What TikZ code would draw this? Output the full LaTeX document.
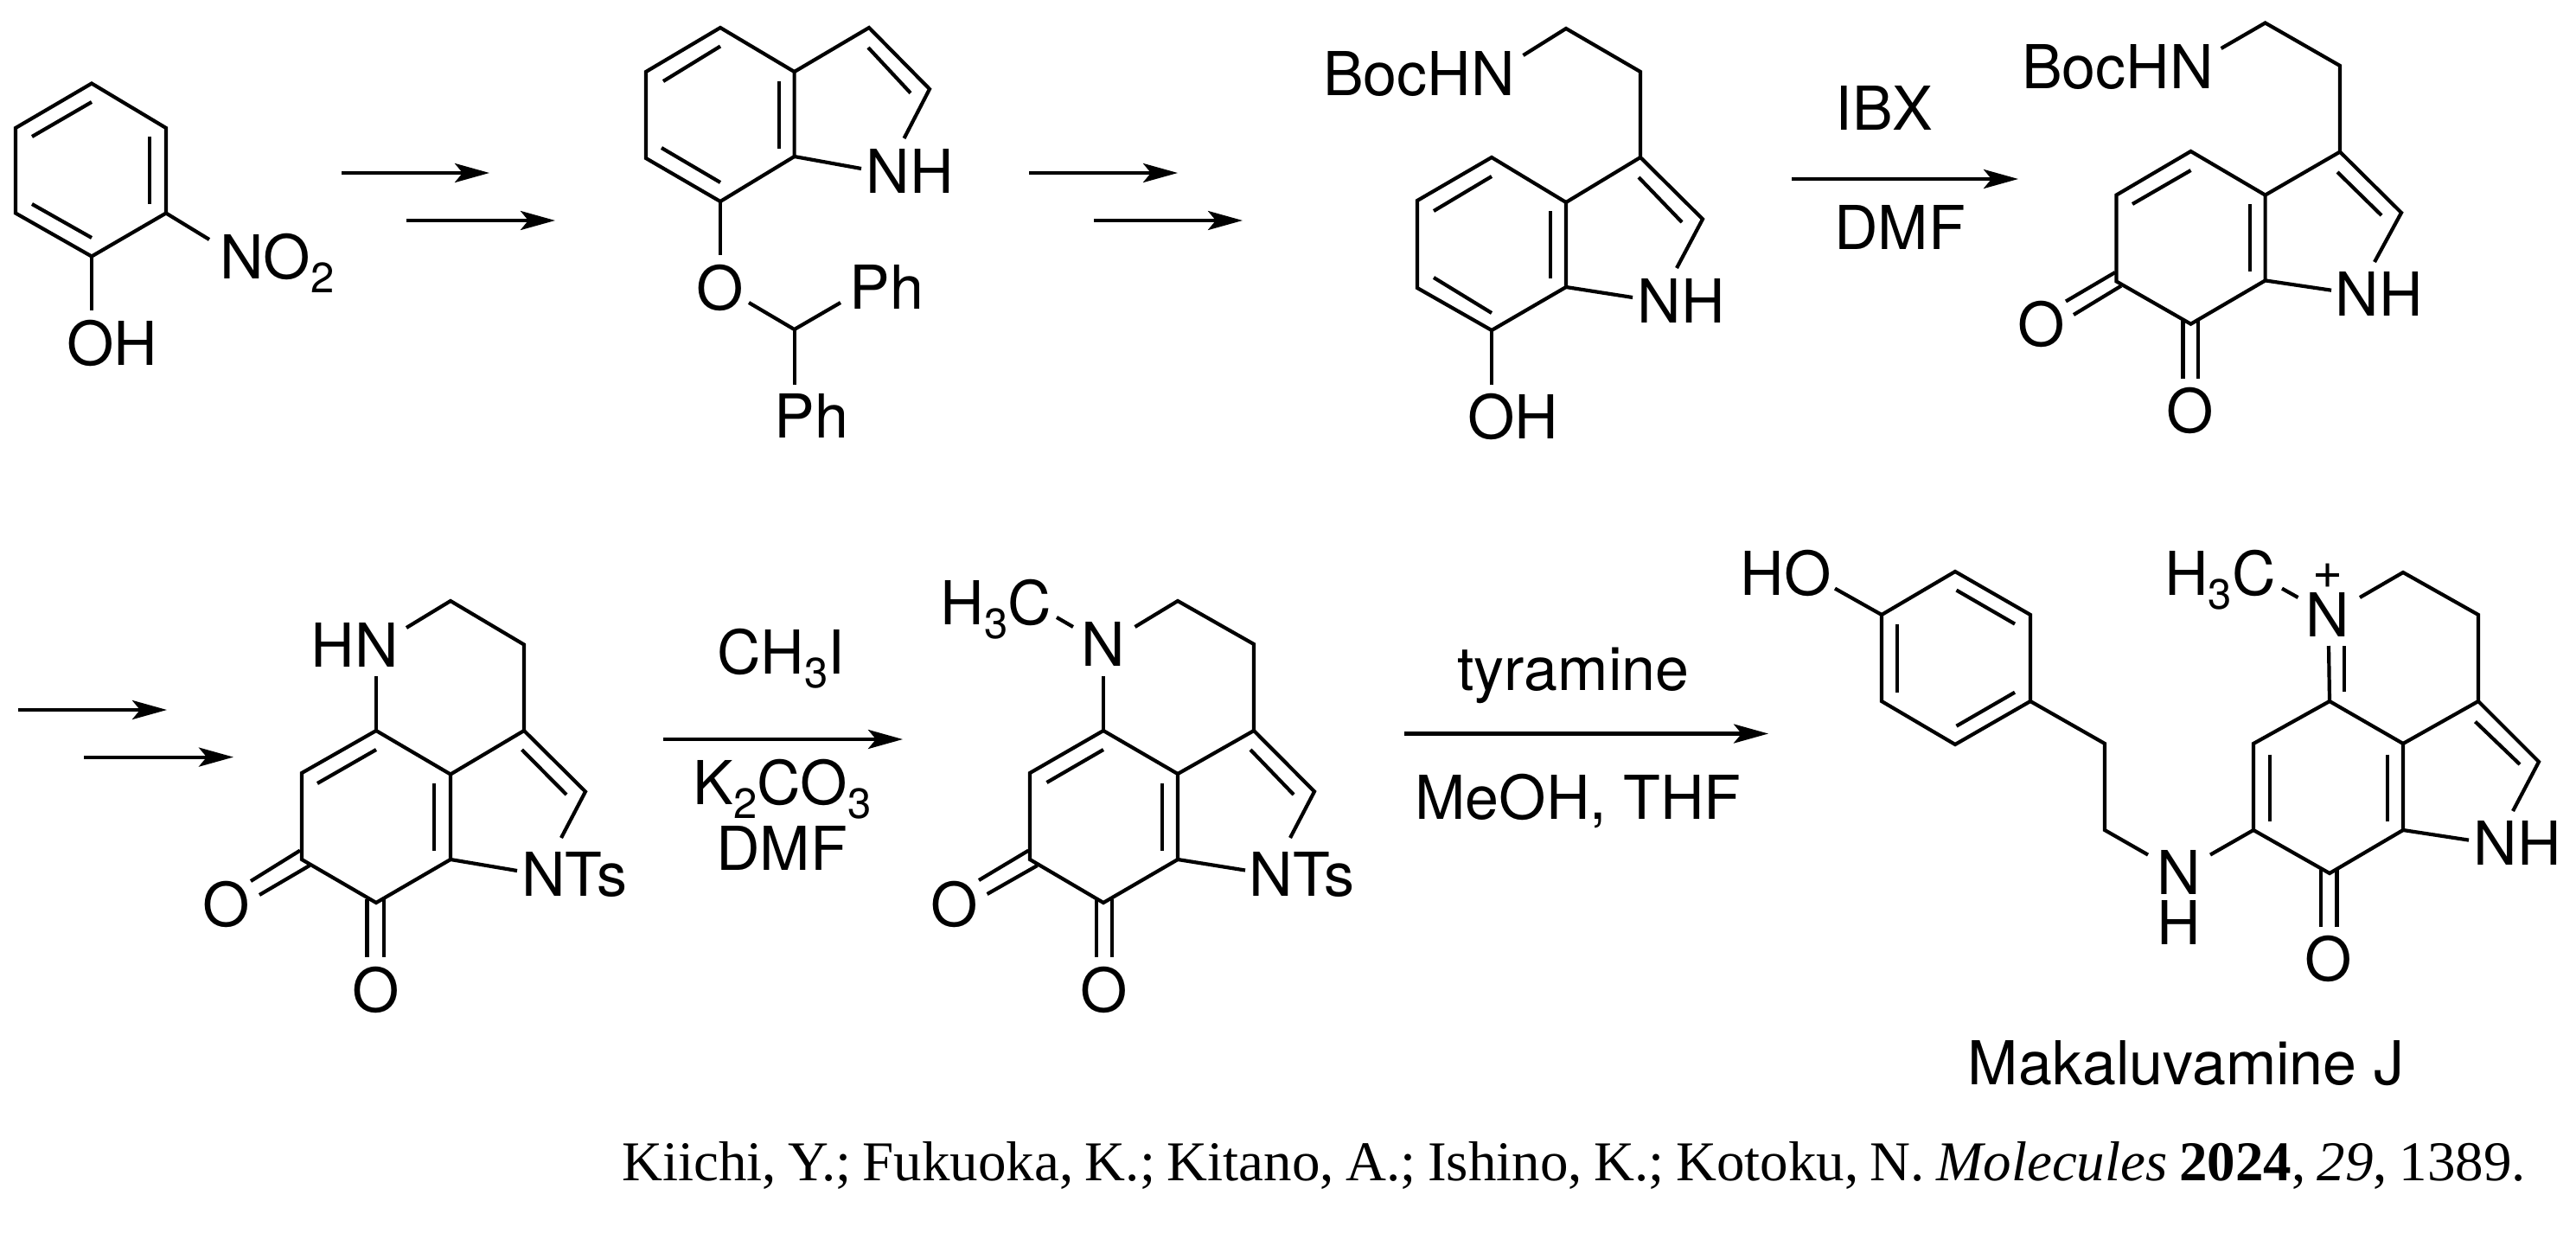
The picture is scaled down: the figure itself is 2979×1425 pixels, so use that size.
\documentclass[tikz,border=0pt]{standalone}
\usepackage{fontspec}
\usetikzlibrary{arrows.meta}
\setmainfont{TeX Gyre Heros}
\newfontfamily\citefont[WordSpace=0.83]{Liberation Serif}
\newcommand{\chemsub}[1]{\raisebox{-16pt}{\fontsize{49}{49}\selectfont #1}}
\newcommand{\atoms}[1]{\foreach \n/\x/\y in {#1} {\coordinate (\n) at (\x,\y);}}
\tikzset{
	bond/.style={line width=4.2pt},
	rxn/.style={line width=4.2pt, -{Stealth[length=40pt,width=22pt,inset=9pt]}},
	lbl/.style={anchor=base, inner sep=0pt, font=\fontsize{70}{70}\selectfont}
}
\begin{document}
\begin{tikzpicture}[x=1pt, y=-1pt]
	\useasboundingbox (0,0) rectangle (2979,1425);
	% 2-nitrophenol
	\atoms{a1/106/96.5, a2/192/148, a3/192/246.5, a4/106/296.5, a5/18/246.5, a6/18/148,
		a7/106/359, a8/242/277, i1/106/118, i2/173/158, i3/173/236, i4/106/275, i5/37/236, i6/37/158}
	\node[lbl] (oh1) at (129.5,422) {OH};
	\node[lbl] (no1) at (320.5,322) {NO\chemsub{2}};
	\draw[bond] (a1) -- (a2) -- (a3) -- (a4) -- (a5) -- (a6) -- cycle;
	\draw[bond] (a4) -- (a7);
	\draw[bond] (a3) -- (a8);
	\draw[bond] (i2) -- (i3);
	\draw[bond] (i4) -- (i5);
	\draw[bond] (i6) -- (i1);
	\atoms{s1/395/200, e1/566/200, s2/470/255, e2/642/255}
	\draw[rxn] (s1) -- (e1);
	\draw[rxn] (s2) -- (e2);
	% 7-benzhydryloxyindole
	\atoms{b1/833/32, b2/918.6/83, b3/918.6/181, b4/833/233, b5/747/183, b6/747/83, b7/1005/32, b8/1075/103,
		b9/1045.5/160, b10/996/195, b11/833/295, b12/866/350, b13/918.6/381, b14/972/350, b15/918.6/445,
		j1/833/53.5, j2/767/94, j3/901/94, j4/901/172, j5/765/171, j6/833/211, j7/1004/55, j8/1053/107.6}
	\node[lbl] (nh2) at (1052,223.5) {NH};
	\node[lbl] (eth2) at (832.5,358) {O};
	\node[lbl] (pa2) at (1025.5,357) {Ph};
	\node[lbl] (pb2) at (938.5,506) {Ph};
	\draw[bond] (b1) -- (b2) -- (b3) -- (b4) -- (b5) -- (b6) -- cycle;
	\draw[bond] (b2) -- (b7) -- (b8) -- (b9);
	\draw[bond] (b3) -- (b10);
	\draw[bond] (b4) -- (b11);
	\draw[bond] (b12) -- (b13) -- (b14);
	\draw[bond] (b13) -- (b15);
	\draw[bond] (j1) -- (j2);
	\draw[bond] (j3) -- (j4);
	\draw[bond] (j5) -- (j6);
	\draw[bond] (j7) -- (j8);
	\atoms{s3/1190/200, e3/1362/200, s4/1265/255, e4/1437/255}
	\draw[rxn] (s3) -- (e3);
	\draw[rxn] (s4) -- (e4);
	% hydroxytryptamine
	\atoms{c1/1725/182, c2/1811/234, c3/1811/332, c4/1725/382, c5/1639/333, c6/1639/232, c7/1897/182, c8/1969/253.4,
		c9/1939/310, c10/1888/344, c11/1725/445, c12/1897/83, c13/1811/33, c14/1761.5/64,
		k1/1725/204, k2/1658/244, k3/1793/244, k4/1793/322, k5/1658/321, k6/1725/362, k7/1895/205, k8/1945/257}
	\node[lbl] (boc3) at (1641,110) {BocHN};
	\node[lbl] (nh3) at (1944,373) {NH};
	\node[lbl] (oh3) at (1749.5,507) {OH};
	\draw[bond] (c1) -- (c2) -- (c3) -- (c4) -- (c5) -- (c6) -- cycle;
	\draw[bond] (c2) -- (c7) -- (c8) -- (c9);
	\draw[bond] (c3) -- (c10);
	\draw[bond] (c4) -- (c11);
	\draw[bond] (c7) -- (c12) -- (c13) -- (c14);
	\draw[bond] (k1) -- (k2);
	\draw[bond] (k3) -- (k4);
	\draw[bond] (k5) -- (k6);
	\draw[bond] (k7) -- (k8);
	\atoms{s5/2072/207, e5/2334/207}
	\draw[rxn] (s5) -- (e5);
	\node[lbl] (ibx) at (2179,150) {IBX};
	\node[lbl] (dmf1) at (2197,288) {DMF};
	% ortho-quinone
	\atoms{d1/2533.5/175, d2/2619.6/225.6, d3/2619.6/324.4, d4/2533.5/374.7, d5/2447.4/325.4, d6/2447.4/225.6,
		d7/2706/175.6, d8/2777/246, d9/2746/303, d10/2696/335.7, d12/2706/76, d13/2619.6/26.5, d14/2568.6/56,
		l1/2533.5/197, l2/2466/236, l3/2601.6/236, l4/2601.6/314, l5/2703/199, l6/2754/249,
		l7/2446/315, l8/2389/348.5, l9/2453/330.6, l10/2398/364, l11/2524.5/370, l12/2524.5/438, l13/2542/369, l14/2542/438}
	\node[lbl] (boc4) at (2449,102) {BocHN};
	\node[lbl] (nh4) at (2751,365.7) {NH};
	\node[lbl] (oa4) at (2360.7,400) {O};
	\node[lbl] (ob4) at (2532.6,500) {O};
	\draw[bond] (d1) -- (d2) -- (d3) -- (d4) -- (d5) -- (d6) -- cycle;
	\draw[bond] (d2) -- (d7) -- (d8) -- (d9);
	\draw[bond] (d3) -- (d10);
	\draw[bond] (d7) -- (d12) -- (d13) -- (d14);
	\draw[bond] (l1) -- (l2);
	\draw[bond] (l3) -- (l4);
	\draw[bond] (l5) -- (l6);
	\draw[bond] (l7) -- (l8);
	\draw[bond] (l9) -- (l10);
	\draw[bond] (l11) -- (l12);
	\draw[bond] (l13) -- (l14);
	\atoms{s6/21/821, e6/193/821, s7/97/875.6, e7/270/875.6}
	\draw[rxn] (s6) -- (e6);
	\draw[rxn] (s7) -- (e7);
	% tricyclic NH
	\atoms{f1/435/845, f2/521/895.5, f3/521/994, f4/435/1044, f5/349/994, f6/349/894, f7/606/845, f8/677/915.5,
		f9/649/969, f10/598/1007, f11/435/782, f12/606/745.5, f13/521/695, f14/470/726,
		m1/435/867, m2/367/906, m3/502/906, m4/502/983.6, m5/603.5/867, m6/655/919,
		m7/347/983.6, m8/290/1019, m9/358/1001, m10/300/1035, m11/424.5/1040, m12/424.5/1107, m13/444/1040, m14/444/1107}
	\node[lbl] (hn5) at (410.5,771) {HN};
	\node[lbl] (nts5) at (664,1036) {NTs};
	\node[lbl] (oa5) at (261.5,1071) {O};
	\node[lbl] (ob5) at (435,1170) {O};
	\draw[bond] (f1) -- (f2) -- (f3) -- (f4) -- (f5) -- (f6) -- cycle;
	\draw[bond] (f2) -- (f7) -- (f8) -- (f9);
	\draw[bond] (f3) -- (f10);
	\draw[bond] (f1) -- (f11);
	\draw[bond] (f7) -- (f12) -- (f13) -- (f14);
	\draw[bond] (m1) -- (m2);
	\draw[bond] (m3) -- (m4);
	\draw[bond] (m5) -- (m6);
	\draw[bond] (m7) -- (m8);
	\draw[bond] (m9) -- (m10);
	\draw[bond] (m11) -- (m12);
	\draw[bond] (m13) -- (m14);
	\atoms{s8/767/855, e8/1044/855}
	\draw[rxn] (s8) -- (e8);
	\node[lbl] (mei) at (903.5,779) {CH\chemsub{3}I};
	\node[lbl] (base) at (904.5,930) {K\chemsub{2}CO\chemsub{3}};
	\node[lbl] (dmf2) at (904,1006.5) {DMF};
	% tricyclic NMe
	\atoms{g1/1276/845, g2/1362/895, g3/1362/994, g4/1276/1044, g5/1191/994, g6/1191/894, g7/1450/845, g8/1520/915.4,
		g9/1492/969, g10/1440/1006.5, g11/1276/782, g12/1450/745, g13/1362/695, g14/1312.5/725, g15/1241/725, g16/1222/714,
		n1/1276/867, n2/1210.5/905, n3/1344/906, n4/1344/983.6, n5/1446/867, n6/1496/919,
		n7/1189.4/983.6, n8/1132/1018, n9/1199.6/1001, n10/1141.6/1034, n11/1268/1040, n12/1268/1107, n13/1286/1040, n14/1286/1107}
	\node[lbl] (me6) at (1152,722.6) {H\chemsub{3}C};
	\node[lbl] (nme6) at (1276,770) {N};
	\node[lbl] (nts6) at (1505.5,1036) {NTs};
	\node[lbl] (oa6) at (1104,1071) {O};
	\node[lbl] (ob6) at (1277,1170) {O};
	\draw[bond] (g1) -- (g2) -- (g3) -- (g4) -- (g5) -- (g6) -- cycle;
	\draw[bond] (g2) -- (g7) -- (g8) -- (g9);
	\draw[bond] (g3) -- (g10);
	\draw[bond] (g1) -- (g11);
	\draw[bond] (g7) -- (g12) -- (g13) -- (g14);
	\draw[bond] (g15) -- (g16);
	\draw[bond] (n1) -- (n2);
	\draw[bond] (n3) -- (n4);
	\draw[bond] (n5) -- (n6);
	\draw[bond] (n7) -- (n8);
	\draw[bond] (n9) -- (n10);
	\draw[bond] (n11) -- (n12);
	\draw[bond] (n13) -- (n14);
	\atoms{s9/1624/848.5, e9/2045/848.5}
	\draw[rxn] (s9) -- (e9);
	\node[lbl] (tyr) at (1819.5,798) {tyramine};
	\node[lbl] (sol) at (1825,947) {MeOH, THF};
	% makaluvamine
	\atoms{h1/2261/661, h2/2348/711, h3/2348/811, h4/2261/861, h5/2176/811, h6/2176/711, h7/2122/680.6,
		h8/2434/860, h9/2434/960, h10/2484/988.6,
		o1/2262.5/682.6, o2/2330/721.6, o3/2194/721.6, o4/2194/800.7, o5/2262.5/839.7, o6/2330/800.7}
	\atoms{q1/2694/811, q2/2779/860, q3/2779/960, q4/2694/1010, q5/2606/960, q6/2606/860, q7/2556/988.6,
		q8/2866/811, q9/2936/881, q10/2906/938, q11/2855/971.6, q12/2866/711, q13/2779/662, q14/2729/691,
		q15/2693/747, q16/2657.5/691, q17/2639/680.6,
		r1/2625/872.6, r2/2625/949.6, r3/2761/872.6, r4/2761/949.6, r5/2711/747, r6/2711/800,
		r7/2862.5/834.6, r8/2914/884, r9/2684/1006, r10/2684/1072, r11/2702.5/1006, r12/2702.5/1072}
	\node[lbl] (ho7) at (2065,688) {HO};
	\node[lbl] (me7) at (2567.5,688) {H\chemsub{3}C};
	\node[lbl, align=center, font=\fontsize{70}{56}\selectfont] (nim7) at (2692,736) {{\fontsize{60}{56}\selectfont +}\\N};
	\node[lbl, align=center, font=\fontsize{70}{58}\selectfont] (amn) at (2520,1092) {N\\H};
	\node[lbl] (nh7) at (2911,1000) {NH};
	\node[lbl] (oxo7) at (2693,1134) {O};
	\node[lbl] (name) at (2528,1254) {Makaluvamine J};
	\draw[bond] (h1) -- (h2) -- (h3) -- (h4) -- (h5) -- (h6) -- cycle;
	\draw[bond] (h6) -- (h7);
	\draw[bond] (h3) -- (h8) -- (h9) -- (h10);
	\draw[bond] (o1) -- (o2);
	\draw[bond] (o3) -- (o4);
	\draw[bond] (o5) -- (o6);
	\draw[bond] (q1) -- (q2) -- (q3) -- (q4) -- (q5) -- (q6) -- cycle;
	\draw[bond] (q5) -- (q7);
	\draw[bond] (q2) -- (q8) -- (q9) -- (q10);
	\draw[bond] (q3) -- (q11);
	\draw[bond] (q8) -- (q12) -- (q13) -- (q14);
	\draw[bond] (q1) -- (q15);
	\draw[bond] (q16) -- (q17);
	\draw[bond] (r1) -- (r2);
	\draw[bond] (r3) -- (r4);
	\draw[bond] (r5) -- (r6);
	\draw[bond] (r7) -- (r8);
	\draw[bond] (r9) -- (r10);
	\draw[bond] (r11) -- (r12);
	% reference line
	\node[anchor=base, inner sep=0pt, font=\citefont\fontsize{65}{65}\selectfont] (cite) at (1820,1365)
		{Kiichi, Y.; Fukuoka, K.; Kitano, A.; Ishino, K.; Kotoku, N. \textit{Molecules} \textbf{2024}, \textit{29}, 1389.};
\end{tikzpicture}
\end{document}
